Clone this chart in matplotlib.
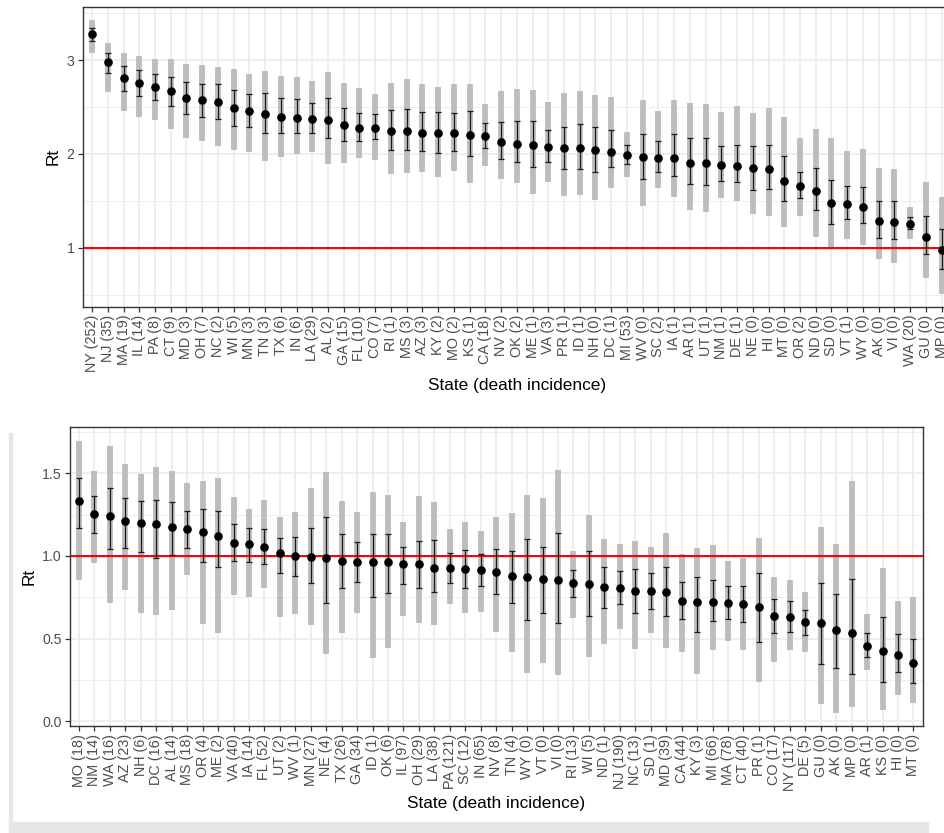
import matplotlib
matplotlib.use('Agg')
import matplotlib.pyplot as plt
from matplotlib.patches import Rectangle

plt.rcParams['font.family'] = ['Liberation Sans', 'DejaVu Sans']

# ---------------- top panel data ----------------
top_states = ["NY", "NJ", "MA", "IL", "PA", "CT", "MD", "OH", "NC", "WI", "MN", "TN", "TX", "IN",
              "LA", "AL", "GA", "FL", "CO", "RI", "MS", "AZ", "KY", "MO", "KS", "CA", "NV", "OK",
              "ME", "VA", "PR", "ID", "NH", "DC", "MI", "WV", "SC", "IA", "AR", "UT", "NM", "DE",
              "NE", "HI", "MT", "OR", "ND", "SD", "VT", "WY", "AK", "VI", "WA", "GU", "MP"]
top_deaths = [252, 35, 19, 14, 8, 9, 3, 7, 2, 5, 3, 3, 6, 6,
              29, 2, 15, 10, 7, 1, 3, 3, 2, 2, 1, 18, 2, 2,
              1, 3, 1, 1, 0, 1, 53, 0, 2, 1, 1, 1, 1, 1,
              0, 0, 0, 2, 0, 0, 1, 0, 0, 0, 20, 0, 0]
top_rt = [3.277, 2.975, 2.805, 2.751, 2.716, 2.673, 2.592, 2.574, 2.556, 2.485, 2.457, 2.428, 2.397, 2.386,
          2.372, 2.361, 2.308, 2.279, 2.279, 2.244, 2.244, 2.226, 2.219, 2.219, 2.201, 2.191, 2.123, 2.105,
          2.095, 2.070, 2.066, 2.059, 2.042, 2.024, 1.988, 1.963, 1.960, 1.960, 1.900, 1.900, 1.882, 1.871,
          1.846, 1.839, 1.715, 1.662, 1.608, 1.474, 1.467, 1.431, 1.285, 1.278, 1.253, 1.119, 0.977]
top_in_lo = [3.206, 2.865, 2.670, 2.617, 2.574, 2.514, 2.425, 2.389, 2.372, 2.301, 2.283, 2.219, 2.219, 2.219,
             2.226, 2.173, 2.141, 2.141, 2.155, 2.042, 2.042, 2.031, 2.013, 2.034, 1.978, 2.059, 1.942, 1.917,
             1.857, 1.910, 1.839, 1.836, 1.811, 1.864, 1.892, 1.729, 1.811, 1.768, 1.676, 1.669, 1.715, 1.697,
             1.616, 1.626, 1.502, 1.527, 1.403, 1.253, 1.307, 1.261, 1.108, 1.090, 1.197, 0.934, 0.774]
top_in_hi = [3.337, 3.078, 2.936, 2.893, 2.851, 2.823, 2.769, 2.744, 2.741, 2.681, 2.638, 2.645, 2.599, 2.585,
             2.546, 2.599, 2.492, 2.439, 2.425, 2.468, 2.478, 2.450, 2.450, 2.439, 2.460, 2.326, 2.343, 2.350,
             2.350, 2.255, 2.290, 2.318, 2.290, 2.255, 2.095, 2.212, 2.137, 2.208, 2.166, 2.166, 2.088, 2.095,
             2.084, 2.095, 1.978, 1.811, 1.846, 1.722, 1.658, 1.644, 1.498, 1.498, 1.324, 1.339, 1.197]
top_out_lo = [3.071, 2.663, 2.460, 2.389, 2.361, 2.262, 2.166, 2.141, 2.088, 2.042, 2.024, 1.928, 1.963, 1.999,
              2.024, 1.889, 1.907, 1.953, 1.935, 1.782, 1.793, 1.804, 1.758, 1.821, 1.687, 1.871, 1.733, 1.687,
              1.573, 1.697, 1.555, 1.562, 1.509, 1.640, 1.750, 1.449, 1.633, 1.545, 1.403, 1.378, 1.527, 1.498,
              1.360, 1.342, 1.225, 1.342, 1.119, 1.012, 1.094, 1.030, 0.881, 0.835, 1.094, 0.682, 0.508]
top_out_hi = [3.426, 3.185, 3.071, 3.043, 3.011, 3.007, 2.957, 2.947, 2.929, 2.901, 2.847, 2.886, 2.833, 2.823,
              2.780, 2.876, 2.752, 2.698, 2.634, 2.759, 2.794, 2.744, 2.716, 2.744, 2.741, 2.528, 2.673, 2.688,
              2.681, 2.549, 2.645, 2.673, 2.627, 2.602, 2.230, 2.574, 2.460, 2.574, 2.539, 2.531, 2.450, 2.510,
              2.432, 2.492, 2.389, 2.166, 2.265, 2.166, 2.031, 2.052, 1.846, 1.839, 1.431, 1.704, 1.545]

# ---------------- bottom panel data ----------------
bot_states = ["MO", "NM", "WA", "AZ", "NH", "DC", "AL", "MS", "OR", "ME", "VA", "IA", "FL", "UT",
              "WV", "MN", "NE", "TX", "GA", "ID", "OK", "IL", "OH", "LA", "PA", "SC", "IN", "NV",
              "TN", "WY", "VT", "VI", "RI", "WI", "ND", "NJ", "NC", "SD", "MD", "CA", "KY", "MI",
              "MA", "CT", "PR", "CO", "NY", "DE", "GU", "AK", "MP", "AR", "KS", "HI", "MT"]
bot_deaths = [18, 14, 16, 23, 6, 16, 14, 18, 4, 2, 40, 14, 52, 2,
              1, 27, 4, 26, 34, 1, 6, 97, 29, 38, 121, 12, 65, 8,
              4, 0, 0, 0, 13, 5, 1, 190, 13, 1, 39, 44, 3, 66,
              78, 40, 1, 17, 117, 5, 0, 0, 0, 1, 0, 0, 0]
bot_rt = [1.333, 1.252, 1.244, 1.212, 1.198, 1.192, 1.177, 1.161, 1.147, 1.121, 1.081, 1.073, 1.052, 1.016,
          1.000, 0.996, 0.986, 0.972, 0.966, 0.966, 0.966, 0.950, 0.950, 0.925, 0.925, 0.919, 0.915, 0.901,
          0.879, 0.875, 0.859, 0.855, 0.835, 0.831, 0.815, 0.804, 0.790, 0.790, 0.784, 0.730, 0.724, 0.720,
          0.714, 0.710, 0.690, 0.637, 0.633, 0.599, 0.593, 0.552, 0.536, 0.458, 0.425, 0.401, 0.351]
bot_in_lo = [1.171, 1.141, 1.040, 1.050, 1.022, 0.990, 1.006, 1.050, 0.966, 0.931, 0.972, 0.962, 0.950, 0.895,
             0.881, 0.835, 0.714, 0.804, 0.845, 0.754, 0.774, 0.831, 0.808, 0.784, 0.835, 0.808, 0.821, 0.768,
             0.718, 0.613, 0.657, 0.597, 0.750, 0.639, 0.688, 0.708, 0.657, 0.679, 0.639, 0.617, 0.542, 0.607,
             0.619, 0.603, 0.482, 0.532, 0.542, 0.522, 0.347, 0.321, 0.286, 0.387, 0.240, 0.296, 0.230]
bot_in_hi = [1.474, 1.363, 1.413, 1.349, 1.335, 1.339, 1.329, 1.274, 1.282, 1.274, 1.194, 1.171, 1.161, 1.107,
             1.113, 1.171, 1.238, 1.131, 1.083, 1.133, 1.133, 1.056, 1.093, 1.097, 1.020, 1.036, 1.012, 1.040,
             1.032, 1.101, 1.056, 1.141, 0.915, 1.030, 0.935, 0.911, 0.919, 0.895, 0.931, 0.845, 0.875, 0.855,
             0.819, 0.821, 0.895, 0.738, 0.730, 0.673, 0.839, 0.768, 0.863, 0.532, 0.633, 0.526, 0.496]
bot_out_lo = [0.855, 0.956, 0.714, 0.794, 0.653, 0.643, 0.673, 0.885, 0.589, 0.532, 0.764, 0.754, 0.808, 0.629,
              0.647, 0.583, 0.405, 0.532, 0.653, 0.381, 0.446, 0.639, 0.597, 0.583, 0.708, 0.657, 0.663, 0.538,
              0.421, 0.294, 0.355, 0.280, 0.627, 0.387, 0.466, 0.556, 0.438, 0.532, 0.442, 0.421, 0.286, 0.431,
              0.488, 0.431, 0.240, 0.357, 0.431, 0.417, 0.105, 0.052, 0.085, 0.310, 0.069, 0.157, 0.109]
bot_out_hi = [1.696, 1.514, 1.665, 1.556, 1.494, 1.540, 1.514, 1.440, 1.454, 1.470, 1.355, 1.284, 1.339, 1.234,
              1.268, 1.409, 1.510, 1.333, 1.268, 1.389, 1.369, 1.208, 1.363, 1.329, 1.161, 1.204, 1.153, 1.238,
              1.262, 1.369, 1.353, 1.520, 1.030, 1.248, 1.101, 1.073, 1.093, 1.052, 1.137, 1.010, 1.046, 1.067,
              0.970, 0.986, 1.107, 0.875, 0.855, 0.780, 1.177, 1.073, 1.454, 0.647, 0.925, 0.728, 0.754]

W, H = 945, 833
fig = plt.figure(figsize=(W / 100, H / 100), dpi=100)

def px_axes(left, top, right, bottom):
    return fig.add_axes([left / W, 1 - bottom / H, (right - left) / W, (bottom - top) / H])

GRID = '#EBEBEB'
DARK = '#333333'

def panel(ax, states, deaths, rt, in_lo, in_hi, out_lo, out_hi, ylim, major, minor, ylabels):
    labels = [f"{s} ({d})" for s, d in zip(states, deaths)]
    x = list(range(len(states)))
    ax.set_xlim(-0.6, len(states) - 0.4)
    ax.set_ylim(*ylim)
    for m in minor:
        ax.axhline(m, color=GRID, lw=0.6, zorder=0)
    for m in major:
        ax.axhline(m, color=GRID, lw=1.2, zorder=0)
    for xi in x:
        ax.axvline(xi, color=GRID, lw=1.2, zorder=0)
    ax.vlines(x, out_lo, out_hi, color='#BDBDBD', lw=4.2, zorder=1)
    ax.axhline(1.0, color='#FF0000', lw=1.5, zorder=2)
    yerr = [[r - l for r, l in zip(rt, in_lo)], [h - r for r, h in zip(rt, in_hi)]]
    ax.errorbar(x, rt, yerr=yerr, fmt='none', ecolor='#1A1A1A', elinewidth=0.9,
                capsize=2.4, capthick=0.9, zorder=3)
    ax.plot(x, rt, 'o', color='black', ms=5.2, zorder=4)
    ax.set_xticks(x)
    ax.set_xticklabels(labels, rotation=90, fontsize=10.4, color='#4D4D4D')
    ax.set_yticks(major)
    ax.set_yticklabels(ylabels, fontsize=10.2, color='#4D4D4D')
    ax.tick_params(axis='both', direction='out', length=3.8, width=0.9, color=DARK, pad=2)
    for sp in ax.spines.values():
        sp.set_color(DARK)
        sp.set_linewidth(1.0)
    ax.set_xlabel('State (death incidence)', fontsize=12.4, color='black', labelpad=4)
    ax.set_ylabel('Rt', fontsize=12.4, color='black', labelpad=4)

ax1 = px_axes(82.6, 6.7, 951.0, 306.7)
panel(ax1, top_states, top_deaths, top_rt, top_in_lo, top_in_hi, top_out_lo, top_out_hi,
      (0.372, 3.568), [1, 2, 3], [0.5, 1.5, 2.5, 3.5], ['1', '2', '3'])

ax2 = px_axes(69.7, 427.3, 922.7, 726.0)
panel(ax2, bot_states, bot_deaths, bot_rt, bot_in_lo, bot_in_hi, bot_out_lo, bot_out_hi,
      (-0.028, 1.778), [0.0, 0.5, 1.0, 1.5], [0.25, 0.75, 1.25, 1.75],
      ['0.0', '0.5', '1.0', '1.5'])

# light grey frame around the lower chart (screenshot edge)
fig.patches.append(Rectangle((9 / W, 1 - 822 / H), 3 / W, (822 - 433) / H,
                             transform=fig.transFigure, color='#E6E6E6', zorder=0))
fig.patches.append(Rectangle((9 / W, 0), (928 - 9) / W, 11 / H,
                             transform=fig.transFigure, color='#E6E6E6', zorder=0))

fig.savefig('out.png', dpi=100)
